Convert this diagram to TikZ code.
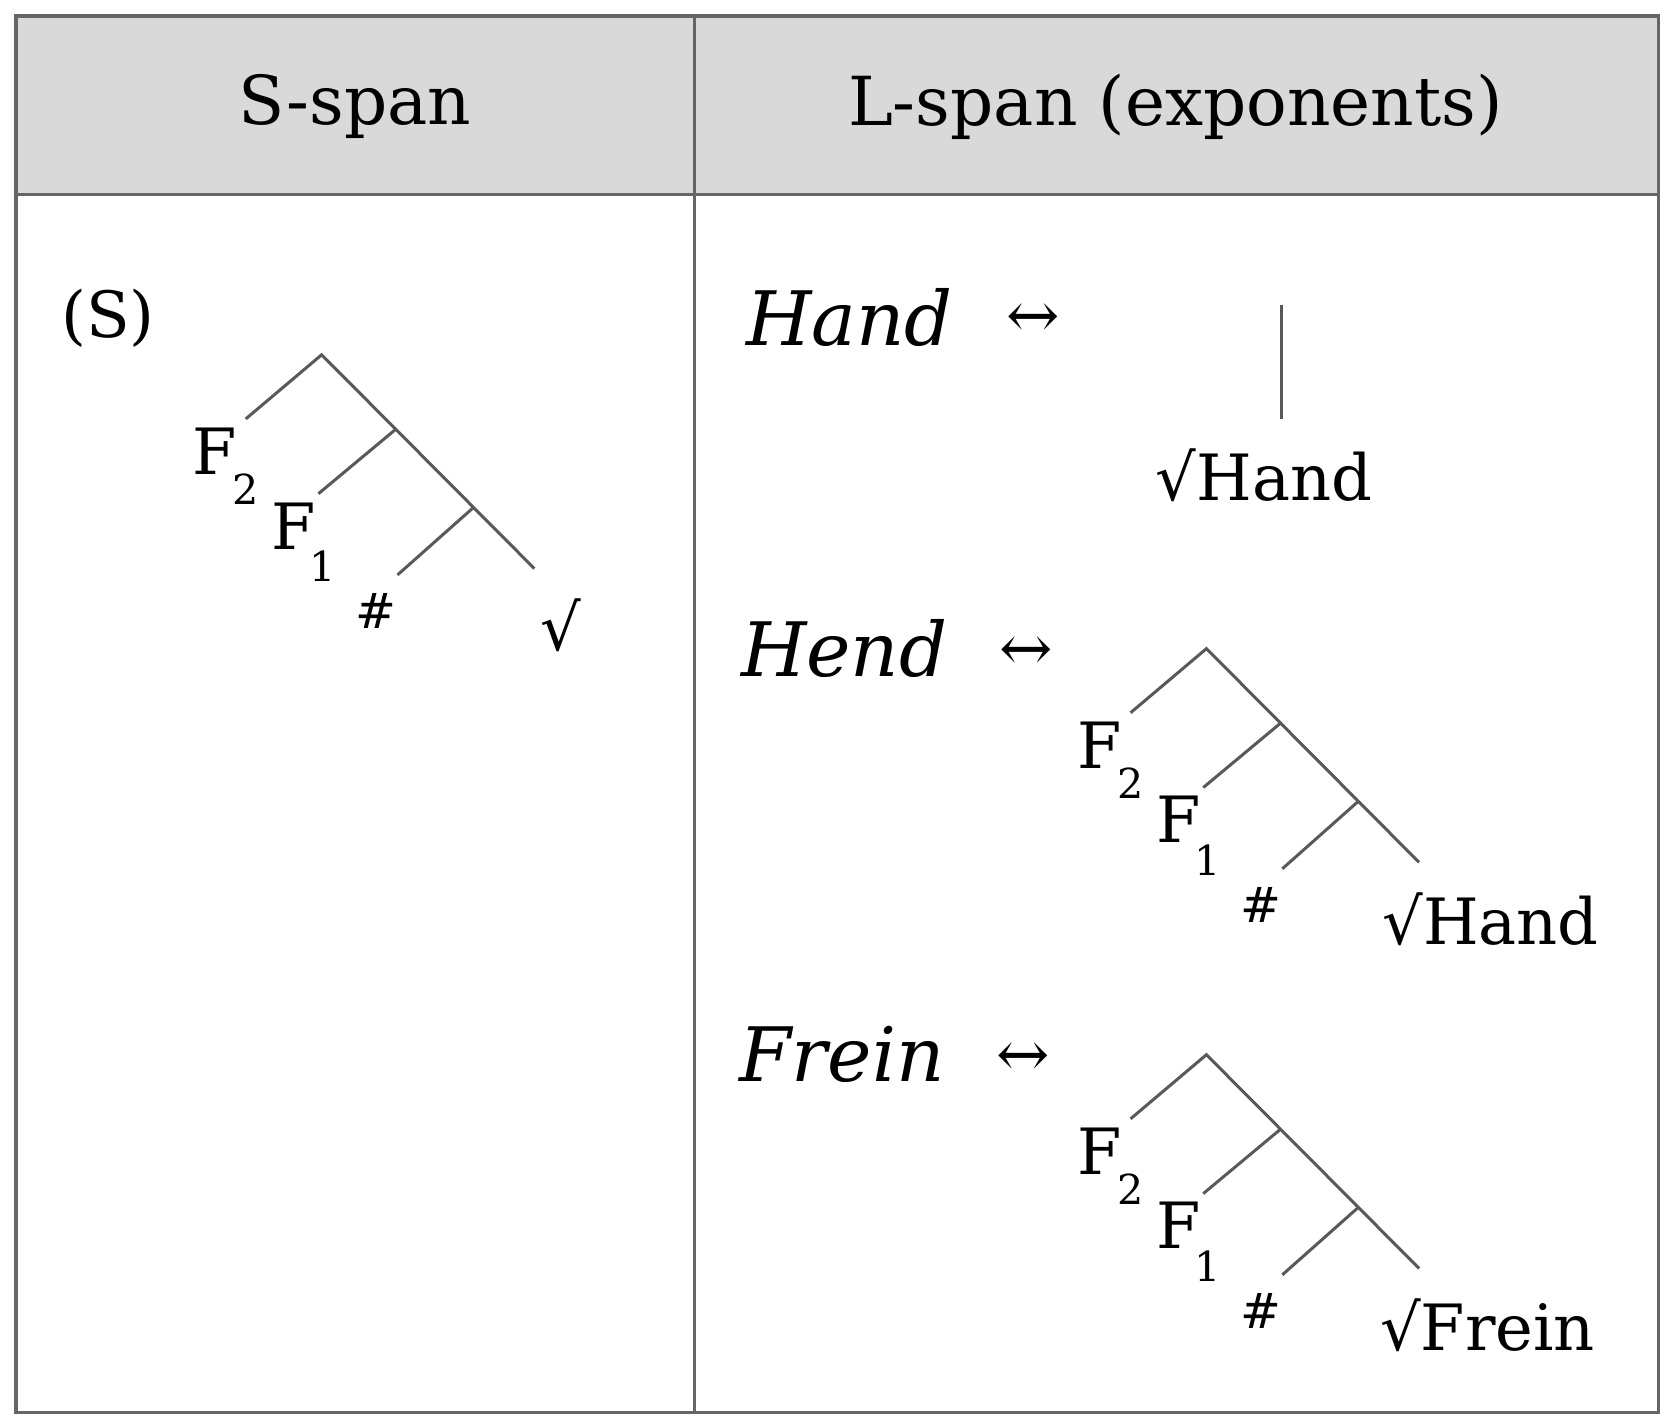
\documentclass[tikz,border=0pt]{standalone}
\usepackage{fontspec}
\setmainfont{DejaVu Serif}
\begin{document}
\begin{tikzpicture}[x=0.02cm,y=-0.02cm,
  br/.style={draw=black!65,line width=1.6pt},
  bd/.style={draw=black!60,line width=1.7pt},
  big/.style={font=\fontsize{34}{40}\selectfont,inner sep=0pt},
  hd/.style={font=\fontsize{36}{42}\selectfont,inner sep=0pt},
  it/.style={font=\fontsize{40}{46}\selectfont\itshape,inner sep=0pt},
  sm/.style={font=\fontsize{22}{26}\selectfont,inner sep=0pt},
  tree/.pic={
    \coordinate (-a) at (0,0); \coordinate (-l) at (-71,60);
    \coordinate (-b) at (69,70); \coordinate (-bl) at (-3,130);
    \coordinate (-c) at (142,143); \coordinate (-cl) at (71,206);
    \coordinate (-r) at (199,200);
    \draw[br] (-l) -- (-a) -- (-r); \draw[br] (-b) -- (-bl); \draw[br] (-c) -- (-cl);
    \node[big] (-F2) at (-100,90) {F}; \node[sm] (-s2) at (-71,126) {2};
    \node[sm] (-s1) at (1,198) {1}; \node[big] (-F1) at (-26,160) {F};
    \node[sm,font=\fontsize{26}{30}\selectfont] (-h) at (51,240) {\#};
  }]
\useasboundingbox (0,0) rectangle (1560,1330);
\fill[black!15] (15,15) rectangle (1552,182);
\draw[bd] (15,15) rectangle (1552,1322);
\draw[bd] (15,182) -- (1552,182);
\draw[bd] (650,15) -- (650,1322);
\node[hd] (h1) at (332,100) {S-span};
\node[hd] (h2) at (1100,100) {L-span (exponents)};
\node[big] (S) at (101,298) {(S)};
\pic (t0) at (301,332) {tree};
\node[big] (rt0) at (525,585) {√};
\node[it] (w1) at (795,297) {Hand};
\node[big] (ar1) at (967,300) {↔};
\coordinate (v1) at (1199,285); \coordinate (v2) at (1199,392);
\draw[br] (v1) -- (v2);
\node[big] (rt1) at (1183,445) {√Hand};
\node[it] (w2) at (790,607) {Hend};
\node[big] (ar2) at (960,612) {↔};
\pic (t2) at (1129,607) {tree};
\node[big] (rt2) at (1395,860) {√Hand};
\node[it] (w3) at (788,987) {Frein};
\node[big] (ar3) at (958,992) {↔};
\pic (t3) at (1129,987) {tree};
\node[big] (rt3) at (1392,1240) {√Frein};
\end{tikzpicture}
\end{document}
